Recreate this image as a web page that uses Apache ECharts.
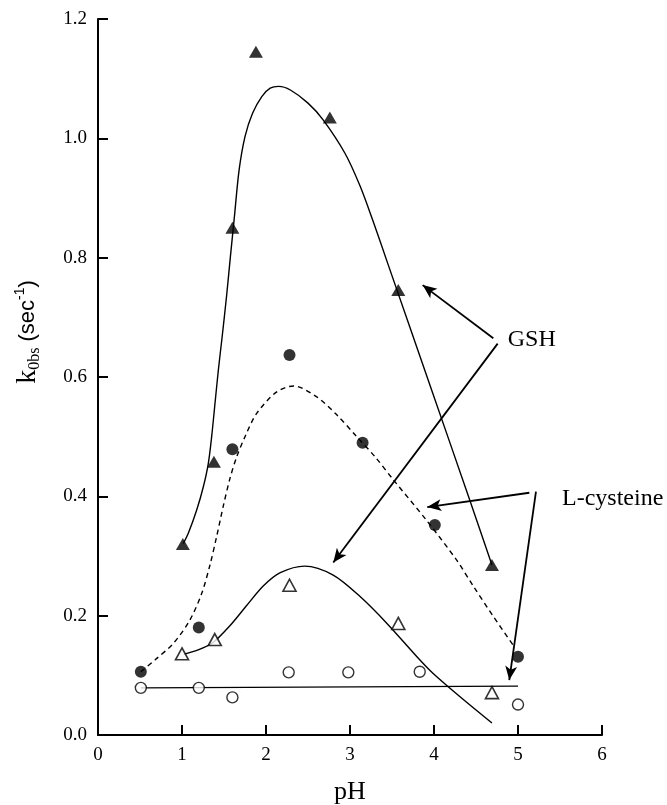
<!DOCTYPE html>
<html><head><meta charset="utf-8">
<script src="https://cdn.jsdelivr.net/npm/echarts@6/dist/echarts.min.js"></script>
<style>html,body{margin:0;padding:0;background:#fff}#c{width:667px;height:805px}</style>
</head><body><div id="c"></div>
<script>
// ---- measured points ----
const phTriFilled = [1.01, 1.38, 1.6, 1.88, 2.76, 3.575, 4.69];
const kTriFilled  = [0.32, 0.458, 0.85, 1.145, 1.035, 0.746, 0.285];

const phCircFilled = [0.51, 1.2, 1.6, 2.28, 3.15, 4.01, 5.0];
const kCircFilled  = [0.106, 0.18, 0.479, 0.637, 0.49, 0.352, 0.131];

const phTriOpen = [1.0, 1.39, 2.28, 3.575, 4.69];
const kTriOpen  = [0.136, 0.16, 0.251, 0.187, 0.071];

const phCircOpen = [0.51, 1.2, 1.6, 2.27, 2.98, 3.83, 5.0];
const kCircOpen  = [0.079, 0.079, 0.063, 0.105, 0.105, 0.106, 0.051];

// ---- fitted curves ----
const fitTriFilledX = [1.016, 1.075, 1.175, 1.254, 1.313, 1.353, 1.393, 1.433, 1.48, 1.53, 1.575, 1.62, 1.68, 1.75, 1.84, 1.95, 2.05, 2.15, 2.29, 2.50, 2.68, 2.94, 3.12, 3.27, 3.45, 3.98, 4.41, 4.69];
const fitTriFilledY = [0.321, 0.338, 0.377, 0.416, 0.455, 0.5, 0.556, 0.612, 0.67, 0.735, 0.80, 0.863, 0.947, 1.003, 1.042, 1.07, 1.084, 1.087, 1.081, 1.059, 1.031, 0.975, 0.92, 0.863, 0.79, 0.575, 0.40, 0.285];

const fitCircFilledX = [0.51, 0.68, 0.9, 1.095, 1.234, 1.333, 1.413, 1.492, 1.571, 1.651, 1.75, 1.889, 2.127, 2.33, 2.6, 2.84, 3.08, 3.3, 3.52, 3.91, 4.27, 4.47, 4.7, 4.94];
const fitCircFilledY = [0.106, 0.126, 0.154, 0.193, 0.237, 0.285, 0.333, 0.384, 0.43, 0.466, 0.5, 0.539, 0.575, 0.585, 0.567, 0.537, 0.50, 0.466, 0.427, 0.36, 0.293, 0.249, 0.2, 0.151];

const fitTriOpenX = [1.02, 1.2, 1.37, 1.57, 1.77, 1.97, 2.17, 2.46, 2.80, 3.12, 3.44, 3.83, 3.99, 4.31, 4.69];
const fitTriOpenY = [0.135, 0.143, 0.155, 0.183, 0.217, 0.25, 0.272, 0.283, 0.268, 0.232, 0.187, 0.126, 0.103, 0.064, 0.02];

const fitCircOpenX = [0.51, 5.0];
const fitCircOpenY = [0.079, 0.082];

// ---- annotations (data units) ----
const gshLabel = 'GSH';
const gshLabelAt = [4.878, 0.662];
const gshArrowFrom = [[4.706, 0.665], [4.758, 0.656]];
const gshArrowTo   = [[3.865, 0.754], [2.801, 0.289]];
const cysLabel = 'L-cysteine';
const cysLabelAt = [5.524, 0.396];
const cysArrowFrom = [[5.135, 0.406], [5.214, 0.408]];
const cysArrowTo   = [[3.92, 0.382], [4.896, 0.092]];

// ---- axis ticks ----
const xTicks = [0, 1, 2, 3, 4, 5, 6];
const yTicks = ['0.0', '0.2', '0.4', '0.6', '0.8', '1.0', '1.2'];

function pairs(xs, ys) { return xs.map((x, i) => [x, ys[i]]); }
function arrows(from, to) { return from.map((f, i) => [{ coord: f }, { coord: to[i] }]); }

const serif = 'Liberation Serif, Times New Roman, serif';
const sans = 'Liberation Sans, Arial, sans-serif';

const chart = echarts.init(document.getElementById('c'));
chart.setOption({
  animation: false,
  backgroundColor: '#fff',
  grid: { left: 98, right: 65, top: 19, bottom: 70, containLabel: false, outerBoundsMode: 'none' },
  xAxis: {
    type: 'value', min: xTicks[0], max: xTicks[xTicks.length - 1], interval: 1,
    name: 'pH', nameLocation: 'middle', nameGap: 44,
    nameTextStyle: { fontFamily: serif, fontSize: 26, color: '#000' },
    axisLine: { show: true, lineStyle: { color: '#000', width: 2 } },
    axisTick: { show: true, inside: true, length: 10, lineStyle: { color: '#000', width: 2 } },
    axisLabel: { fontFamily: serif, fontSize: 19, color: '#000', margin: 11 },
    splitLine: { show: false }
  },
  yAxis: {
    type: 'value', min: 0, max: 1.2, interval: 0.2,
    name: '{k|k}{sub|0bs}{s| (sec}{sup|-1}{s|)}',
    nameLocation: 'middle', nameRotate: 90, nameGap: 55,
    nameTextStyle: {
      color: '#000', padding: [0, 0, 0, 90],
      rich: {
        k: { fontFamily: serif, fontSize: 28, color: '#000', lineHeight: 30, verticalAlign: 'middle' },
        sub: { fontFamily: serif, fontSize: 16, color: '#000', lineHeight: 15, verticalAlign: 'bottom' },
        s: { fontFamily: sans, fontSize: 22, color: '#000', lineHeight: 30, verticalAlign: 'middle' },
        sup: { fontFamily: sans, fontSize: 14, color: '#000', lineHeight: 14, verticalAlign: 'top' }
      }
    },
    axisLine: { show: true, lineStyle: { color: '#000', width: 2 } },
    axisTick: { show: true, inside: true, length: 10, lineStyle: { color: '#000', width: 2 } },
    axisLabel: { fontFamily: serif, fontSize: 19, color: '#000', margin: 11,
      formatter: v => yTicks[Math.round(v / 0.2)] },
    splitLine: { show: false }
  },
  series: [
    { type: 'line', data: pairs(fitTriFilledX, fitTriFilledY), smooth: 0.3, showSymbol: false,
      lineStyle: { color: '#000', width: 1.4 }, z: 2, silent: true },
    { type: 'line', data: pairs(fitCircFilledX, fitCircFilledY), smooth: 0.3, showSymbol: false,
      lineStyle: { color: '#000', width: 1.4, type: [5, 4] }, z: 2, silent: true },
    { type: 'line', data: pairs(fitTriOpenX, fitTriOpenY), smooth: 0.3, showSymbol: false,
      lineStyle: { color: '#000', width: 1.4 }, z: 2, silent: true },
    { type: 'line', data: pairs(fitCircOpenX, fitCircOpenY), showSymbol: false,
      lineStyle: { color: '#000', width: 1.3 }, z: 2, silent: true,
      markLine: {
        silent: true, symbol: ['none', 'arrow'], symbolSize: [9, 14], precision: 4,
        label: { show: false },
        lineStyle: { color: '#000', width: 1.8, type: 'solid' },
        emphasis: { disabled: true },
        data: arrows(gshArrowFrom, gshArrowTo).concat(arrows(cysArrowFrom, cysArrowTo))
      },
      markPoint: {
        silent: true, symbol: 'circle', symbolSize: 0,
        label: { show: true, position: 'right', distance: 0, fontFamily: serif, fontSize: 24, color: '#000',
          formatter: p => p.name },
        data: [
          { name: gshLabel, coord: gshLabelAt },
          { name: cysLabel, coord: cysLabelAt }
        ]
      }
    },
    { type: 'scatter', data: pairs(phTriFilled, kTriFilled), symbol: 'triangle', symbolSize: [14, 12],
      itemStyle: { color: '#000' }, z: 5, silent: true },
    { type: 'scatter', data: pairs(phCircFilled, kCircFilled), symbol: 'circle', symbolSize: 12,
      itemStyle: { color: '#000' }, z: 5, silent: true },
    { type: 'scatter', data: pairs(phTriOpen, kTriOpen), symbol: 'triangle', symbolSize: [13, 12],
      itemStyle: { color: '#fff', borderColor: '#000', borderWidth: 1.6 }, z: 5, silent: true },
    { type: 'scatter', data: pairs(phCircOpen, kCircOpen), symbol: 'circle', symbolSize: 11,
      itemStyle: { color: '#fff', borderColor: '#000', borderWidth: 1.4 }, z: 5, silent: true }
  ]
});
</script></body></html>
